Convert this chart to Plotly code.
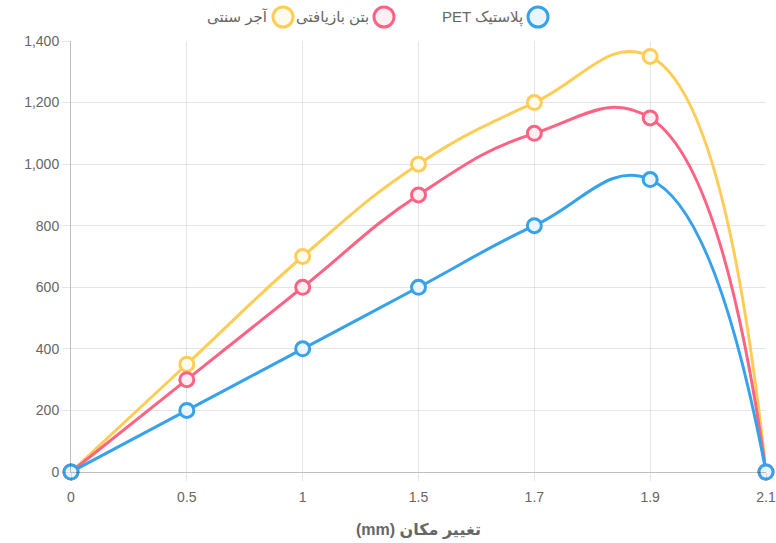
import plotly.graph_objects as go

# Displacement categories (mm) and load series
displacement = ["0", "0.5", "1", "1.5", "1.7", "1.9", "2.1"]
pet_plastic = [0, 200, 400, 600, 800, 950, 0]
recycled_concrete = [0, 300, 600, 900, 1100, 1150, 0]
traditional_brick = [0, 350, 700, 1000, 1200, 1350, 0]

series_names = ["پلاستیک PET", "بتن بازیافتی", "آجر سنتی"]
# Visual (right-to-left) order of the legend labels, rendered in an LTR box
legend_labels = ["\u200ePET پلاستیک", "\u200eبتن بازیافتی", "\u200eآجر سنتی"]
series_values = [pet_plastic, recycled_concrete, traditional_brick]
line_colors = ["rgb(54,162,235)", "rgb(255,99,132)", "rgb(255,205,86)"]
fill_colors = ["rgb(235,245,253)", "rgb(255,239,243)", "rgb(255,250,238)"]

FONT = "Liberation Sans, Arial, DejaVu Sans, sans-serif"
PLOT_W, PLOT_H = 695, 431

fig = go.Figure()

# Draw back-to-front so the blue series sits on top
for name, vals, lc, fc in reversed(list(zip(series_names, series_values, line_colors, fill_colors))):
    fig.add_trace(go.Scatter(
        x=displacement, y=vals, name=name, mode="lines+markers",
        line=dict(color=lc, width=3, shape="spline", smoothing=1.25),
        marker=dict(symbol="circle", size=14, color=fc,
                    line=dict(color=lc, width=3)),
        cliponaxis=False, showlegend=False,
    ))

# Right-to-left legend: circle to the right of each label
legend_px = [538, 384, 283]   # circle centres, pixels from the left edge
for label, lc, fc, px in zip(legend_labels, line_colors, fill_colors, legend_px):
    cx = (px - 71) / PLOT_W
    cy = 1 + 24 / PLOT_H
    r_x = 10 / PLOT_W
    r_y = 10 / PLOT_H
    fig.add_shape(type="circle", xref="paper", yref="paper",
                  x0=cx - r_x, x1=cx + r_x, y0=cy - r_y, y1=cy + r_y,
                  line=dict(color=lc, width=3), fillcolor=fc)
    fig.add_annotation(xref="paper", yref="paper", x=cx - 13 / PLOT_W, y=cy,
                       text=label, showarrow=False, xanchor="right", yanchor="middle",
                       font=dict(family=FONT, size=15, color="#666"))

grid = "rgba(0,0,0,0.1)"
fig.update_layout(
    width=776, height=543,
    margin=dict(l=71, r=10, t=41, b=71),
    paper_bgcolor="white", plot_bgcolor="white",
    font=dict(family=FONT, size=14, color="#666"),
    xaxis=dict(
        type="category", range=[0, 6], automargin=False,
        showgrid=True, gridcolor=grid, gridwidth=1,
        ticks="outside", ticklen=8, tickcolor=grid,
        ticklabelstandoff=4,
        showline=True, linecolor="rgba(0,0,0,0.25)", linewidth=1,
        tickfont=dict(size=14, color="#666"),
        title=dict(text="\u200e(mm) تغییر مکان",
                   font=dict(size=16, color="#666", weight="bold"), standoff=20),
        zeroline=False,
    ),
    yaxis=dict(
        range=[0, 1400], dtick=200, tickformat=",", automargin=False,
        showgrid=True, gridcolor=grid, gridwidth=1,
        ticks="outside", ticklen=8, tickcolor=grid,
        showline=True, linecolor="rgba(0,0,0,0.25)", linewidth=1,
        tickfont=dict(size=14, color="#666"),
        zeroline=False,
    ),
)

fig.write_html("out.html")
